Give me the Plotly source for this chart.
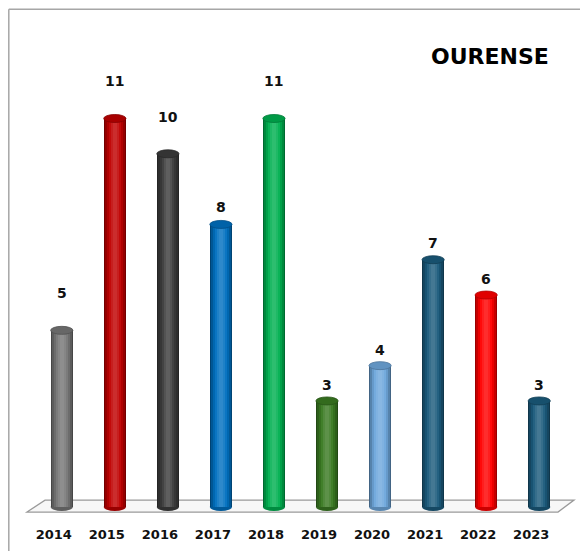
import plotly.graph_objects as go

# ---------------- data ----------------
years = ["2014", "2015", "2016", "2017", "2018", "2019", "2020", "2021", "2022", "2023"]
values = [5, 11, 10, 8, 11, 3, 4, 7, 6, 3]
bar_colors = ["#767676", "#c00000", "#3c3c3c", "#0070c0", "#00b050",
              "#3a7a22", "#6fa8dc", "#1b5b7c", "#ff0000", "#1b5b7c"]
title_text = "OURENSE"

# ---------------- style ----------------
OFF = 8                      # page body margin in the browser
W, H = 588 - OFF, 551 - OFF
ML, MR, MT, MB = 22 - OFF, 9, 62 - OFF, 28
PW, PH = W - ML - MR, H - MT - MB
label_raise = [37, 37, 37, 17, 37, 16, 16, 17, 16, 16]
BAR_W = 0.42
FONT = "DejaVu Sans"


def mix(hexc, f):
    r, g, b = int(hexc[1:3], 16), int(hexc[3:5], 16), int(hexc[5:7], 16)
    if f >= 0:
        r, g, b = [c + (255 - c) * f for c in (r, g, b)]
    else:
        r, g, b = [c * (1 + f) for c in (r, g, b)]
    return "#%02x%02x%02x" % (int(r), int(g), int(b))


def px2paper(x, y):
    # x, y are window pixel positions
    return (x - OFF - ML) / PW, (H - MB - (y - OFF)) / PH


xs = list(range(len(years)))
fig = go.Figure()

layers = [(1.0, -0.40), (0.88, -0.22), (0.72, -0.08), (0.55, 0.04), (0.38, 0.12), (0.2, 0.18)]
for frac, f in layers:
    fig.add_trace(go.Bar(
        x=xs, y=values, width=[BAR_W * frac] * len(xs),
        marker=dict(color=[mix(c, f) for c in bar_colors], line=dict(width=0)),
        hoverinfo="skip", showlegend=False,
    ))

shapes = []
# frame lines
xl, yt = px2paper(8.8, 9)
_, ybot = px2paper(8.8, 560)
xr, _ = px2paper(600, 9)
shapes.append(dict(type="line", xref="paper", yref="paper", x0=xl, x1=xl, y0=ybot, y1=yt,
                   line=dict(color="#a6a6a6", width=1.5), layer="below"))
shapes.append(dict(type="line", xref="paper", yref="paper", x0=xl, x1=xr, y0=yt, y1=yt,
                   line=dict(color="#a6a6a6", width=1.5), layer="below"))
# floor
pts = [px2paper(45, 502), px2paper(574, 502), px2paper(558, 514), px2paper(27, 514)]
path = "M " + " L ".join("%f,%f" % p for p in pts) + " Z"
shapes.append(dict(type="path", xref="paper", yref="paper", path=path,
                   fillcolor="#f7f7f7", line=dict(color="#9a9a9a", width=1.3), layer="below"))

for i, (v, c) in enumerate(zip(values, bar_colors)):
    # bottom ellipse
    shapes.append(dict(type="circle", xref="x", yref="y", ysizemode="pixel", yanchor=0,
                       x0=i - BAR_W / 2, x1=i + BAR_W / 2, y0=-4, y1=4,
                       fillcolor=mix(c, -0.2), line=dict(width=0), layer="below"))
    # top cap
    shapes.append(dict(type="circle", xref="x", yref="y", ysizemode="pixel", yanchor=v,
                       x0=i - BAR_W / 2, x1=i + BAR_W / 2, y0=-4, y1=4,
                       fillcolor=mix(c, -0.12), line=dict(color=mix(c, -0.3), width=0.8),
                       layer="above"))

annotations = []
for i, v in enumerate(values):
    annotations.append(dict(x=i, y=v, xref="x", yref="y", text="<b>%d</b>" % v,
                            showarrow=False, yshift=label_raise[i],
                            font=dict(family=FONT, size=14, color="#111111")))
tx, ty = px2paper(490, 56)
annotations.append(dict(x=tx, y=ty, xref="paper", yref="paper", text="<b>%s</b>" % title_text,
                        xanchor="center", yanchor="middle", showarrow=False,
                        font=dict(family=FONT, size=22, color="#000000")))

fig.update_layout(
    width=W, height=H,
    margin=dict(l=ML, r=MR, t=MT, b=MB, pad=0),
    paper_bgcolor="white", plot_bgcolor="rgba(0,0,0,0)",
    barmode="overlay", bargap=0,
    shapes=shapes, annotations=annotations,
    xaxis=dict(range=[-0.75, 9.75], tickmode="array", tickvals=xs,
               ticktext=["<b>%s</b>" % y for y in years], showgrid=False, zeroline=False,
               showline=False, ticks="", ticklabelshift=-8, ticklabelstandoff=4,
               tickfont=dict(family=FONT, size=13, color="#111111"), fixedrange=True),
    yaxis=dict(range=[-0.4, 12.6], visible=False, fixedrange=True),
)

fig.write_html("out.html")
